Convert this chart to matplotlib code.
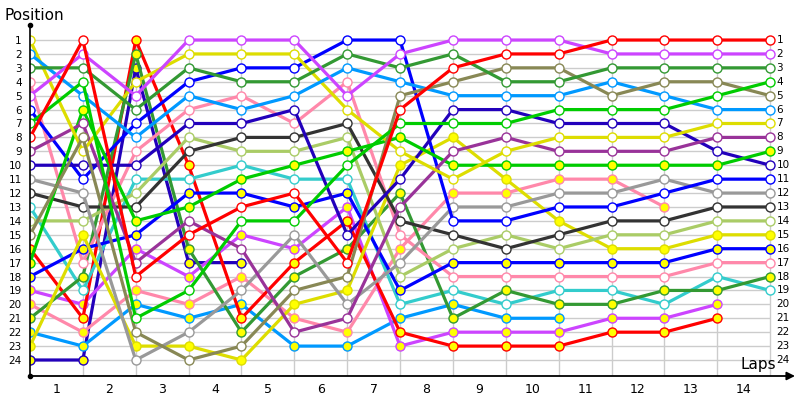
import numpy as np
import matplotlib
matplotlib.use('Agg')
import matplotlib.pyplot as plt

nan = np.nan

# Position of every driver at the start (column 0) and after each lap.
red_w = [8, 1, 18, 15, 13, 12, 17, 6, 3, 2, 2, 1, 1, 1, 1]
violet_w = [5, 2, 5, 1, 1, 1, 5, 2, 1, 1, 1, 2, 2, 2, 2]
dkgreen_w = [3, 3, 6, 3, 4, 4, 2, 3, 2, 4, 4, 3, 3, 3, 3]
green_w = [7, 4, 21, 19, 14, 14, 10, 7, 7, 7, 6, 6, 6, 5, 4]
olive_w = [15, 8, 22, 24, 23, 19, 18, 5, 4, 3, 3, 5, 4, 4, 5]
ltblue_w = [2, 5, 8, 5, 6, 5, 3, 4, 5, 5, 5, 4, 5, 6, 6]
yellow_w = [1, 9, 4, 2, 2, 2, 6, 9, 11, 9, 8, 8, 8, 7, 7]
purple_w = [9, 7, 17, 14, 16, 22, 21, 13, 9, 8, 9, 9, 9, 8, 8]
green_y = [17, 6, 14, 13, 11, 10, 9, 8, 10, 10, 10, 10, 10, 10, 9]
navy_w = [10, 10, 10, 7, 7, 6, 15, 11, 6, 6, 7, 7, 7, 9, 10]
blue_w = [6, 11, 7, 4, 3, 3, 1, 1, 14, 14, 13, 13, 12, 11, 11]
grey_w = [11, 12, 24, 22, 19, 15, 20, 17, 13, 13, 12, 12, 11, 12, 12]
dkgrey_w = [12, 13, 13, 9, 8, 8, 7, 14, 15, 16, 15, 14, 14, 13, 13]
ltgreen_w = [14, 14, 12, 8, 9, 9, 8, 18, 16, 15, 16, 15, 15, 14, 14]
yellow_y = [23, 15, 23, 23, 24, 20, 19, 10, 8, 11, 14, 16, 16, 15, 15]
blue_y = [18, 16, 15, 12, 12, 13, 12, 19, 17, 17, 17, 17, 17, 16, 16]
pink_w = [4, 17, 9, 6, 5, 7, 4, 15, 18, 18, 18, 18, 18, 17, 17]
dkgreen_y = [21, 18, 2, 16, 22, 18, 16, 12, 21, 19, 20, 20, 19, 19, 18]
cyan_w = [13, 19, 11, 11, 10, 11, 11, 20, 19, 20, 19, 19, 20, 18, 19]
red_y = [16, 21, 1, 10, 21, 17, 14, 22, 23, 23, 23, 22, 22, 21, nan]
violet_y = [19, 20, 16, 18, 15, 16, 13, 23, 22, 22, 22, 21, 21, 20, nan]
pink_y = [20, 22, 19, 20, 18, 21, 22, 16, 12, 12, 11, 11, 13, nan, nan]
ltblue_y = [22, 23, 20, 21, 20, 23, 23, 21, 20, 21, 21, nan, nan, nan, nan]
navy_y = [24, 24, 3, 17, 17, nan, nan, nan, nan, nan, nan, nan, nan, nan, nan]

lap_labels = [str(i) for i in range(1, 15)]
positions = list(range(1, 25))

# driver line, team colour, marker fill
drivers = [
    (navy_y, '#2200bb', '#ffff00'),
    (ltblue_y, '#0099ff', '#ffff00'),
    (pink_y, '#ff88aa', '#ffff00'),
    (violet_y, '#cc44ff', '#ffff00'),
    (red_y, '#ff0000', '#ffff00'),
    (cyan_w, '#33cccc', 'white'),
    (dkgreen_y, '#339933', '#ffff00'),
    (pink_w, '#ff88aa', 'white'),
    (blue_y, '#0000ff', '#ffff00'),
    (yellow_y, '#dddd00', '#ffff00'),
    (ltgreen_w, '#aacc66', 'white'),
    (dkgrey_w, '#333333', 'white'),
    (grey_w, '#999999', 'white'),
    (blue_w, '#0000ff', 'white'),
    (navy_w, '#2200bb', 'white'),
    (green_y, '#00cc00', '#ffff00'),
    (purple_w, '#993399', 'white'),
    (yellow_w, '#dddd00', 'white'),
    (ltblue_w, '#0099ff', 'white'),
    (olive_w, '#888855', 'white'),
    (green_w, '#00cc00', 'white'),
    (dkgreen_w, '#339933', 'white'),
    (violet_w, '#cc44ff', 'white'),
    (red_w, '#ff0000', 'white'),
]

fig = plt.figure(figsize=(8, 4), dpi=100)
ax = fig.add_axes([0.0375, 0.06, 0.95625, 0.8775])
ax.set_xlim(0, 14.47)
ax.set_ylim(25.15, -0.08)

# grid
ax.hlines(positions, 0, 14, color='#cccccc', lw=1, zorder=0)
ax.vlines(range(1, 15), 1, 25.15, color='#cccccc', lw=1, zorder=0)

cols = np.arange(15)
for line, col, fill in drivers:
    ax.plot(cols, line, color=col, lw=2.3, marker='o', markersize=6.5,
            markerfacecolor=fill, markeredgecolor=col, markeredgewidth=1.0,
            solid_capstyle='round', solid_joinstyle='round', zorder=2)

# axes
for s in ['top', 'right', 'bottom']:
    ax.spines[s].set_visible(False)
ax.spines['left'].set_linewidth(1.2)
ax.annotate('', xy=(1.0, 0), xycoords='axes fraction', xytext=(0, 0),
            arrowprops=dict(arrowstyle='-|>', color='black', lw=1.3,
                            mutation_scale=12, shrinkA=0, shrinkB=0))
ax.plot([0, 0], [-0.08, 25.15], 'ko', ms=3, clip_on=False, zorder=5)

ax.set_yticks(positions)
ax.set_yticklabels([str(p) for p in positions], fontsize=7.5)
ax.set_xticks(np.arange(15)[:-1] + 0.5)
ax.set_xticklabels(lap_labels, fontsize=9)
ax.tick_params(axis='y', length=0, pad=6)
ax.tick_params(axis='x', length=0, pad=5)

for p in positions:
    ax.text(14.12, p, str(p), fontsize=7.5, va='center', ha='left')

fig.text(0.006, 0.962, 'Position', fontsize=11, va='center', ha='left')
fig.text(0.948, 0.0875, 'Laps', fontsize=11, va='center', ha='center')

fig.savefig('out.png', dpi=100)
